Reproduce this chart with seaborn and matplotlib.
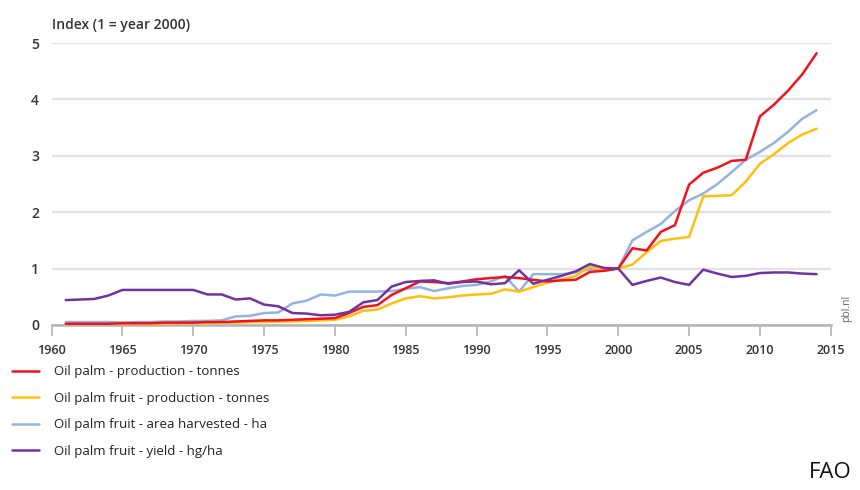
import numpy as np
import pandas as pd
import matplotlib
matplotlib.use("Agg")
import matplotlib.pyplot as plt
import seaborn as sns

years = list(range(1961, 2015))

palm_oil_production = [
    0.02, 0.02, 0.02, 0.02, 0.03, 0.03, 0.03, 0.04, 0.04, 0.04,
    0.05, 0.05, 0.06, 0.07, 0.08, 0.08, 0.09, 0.10, 0.11, 0.12,
    0.21, 0.32, 0.35, 0.53, 0.65, 0.77, 0.76, 0.74, 0.77, 0.81,
    0.83, 0.85, 0.83, 0.80, 0.77, 0.79, 0.80, 0.94, 0.96, 1.00,
    1.36, 1.32, 1.65, 1.77, 2.49, 2.70, 2.79, 2.91, 2.93, 3.70,
    3.91, 4.16, 4.45, 4.82,
]
fruit_production = [
    0.01, 0.01, 0.01, 0.01, 0.02, 0.02, 0.02, 0.02, 0.03, 0.03,
    0.03, 0.04, 0.04, 0.05, 0.05, 0.06, 0.06, 0.07, 0.08, 0.09,
    0.15, 0.25, 0.27, 0.38, 0.47, 0.51, 0.47, 0.49, 0.52, 0.54,
    0.55, 0.63, 0.59, 0.67, 0.75, 0.81, 0.87, 1.04, 0.96, 1.00,
    1.07, 1.29, 1.49, 1.53, 1.56, 2.28, 2.29, 2.30, 2.54, 2.86,
    3.03, 3.23, 3.38, 3.48,
]
fruit_area = [
    0.05, 0.05, 0.05, 0.05, 0.04, 0.05, 0.05, 0.06, 0.06, 0.07,
    0.07, 0.08, 0.15, 0.16, 0.21, 0.22, 0.38, 0.43, 0.54, 0.52,
    0.59, 0.59, 0.59, 0.60, 0.64, 0.67, 0.60, 0.65, 0.69, 0.71,
    0.77, 0.87, 0.59, 0.90, 0.90, 0.90, 0.93, 0.99, 0.98, 1.00,
    1.50, 1.65, 1.79, 2.02, 2.21, 2.33, 2.50, 2.71, 2.93, 3.07,
    3.23, 3.43, 3.66, 3.81,
]
fruit_yield = [
    0.44, 0.45, 0.46, 0.52, 0.62, 0.62, 0.62, 0.62, 0.62, 0.62,
    0.54, 0.54, 0.45, 0.47, 0.36, 0.33, 0.21, 0.20, 0.17, 0.18,
    0.23, 0.40, 0.44, 0.68, 0.76, 0.78, 0.79, 0.73, 0.76, 0.77,
    0.72, 0.74, 0.97, 0.73, 0.80, 0.87, 0.95, 1.08, 1.01, 1.00,
    0.71, 0.78, 0.84, 0.76, 0.71, 0.98, 0.91, 0.85, 0.87, 0.92,
    0.93, 0.93, 0.91, 0.90,
]

series_names = [
    "Oil palm - production - tonnes",
    "Oil palm fruit - production - tonnes",
    "Oil palm fruit - area harvested - ha",
    "Oil palm fruit - yield - hg/ha",
]
series_colors = ["#f4121a", "#ffbf0f", "#94b2e2", "#7232a2"]
x_ticks = list(range(1960, 2016, 5))
y_ticks = [0, 1, 2, 3, 4, 5]

df = pd.DataFrame({
    "year": years * 4,
    "index": palm_oil_production + fruit_production + fruit_area + fruit_yield,
    "series": sum([[name] * len(years) for name in series_names], []),
})

sns.set_theme(style="white")
plt.rcParams["font.family"] = ["Open Sans", "DejaVu Sans"]

fig = plt.figure(figsize=(8.6, 4.9), dpi=100)
ax = fig.add_axes([0.060, 0.337, 0.906, 0.575])

sns.lineplot(data=df, x="year", y="index", hue="series",
             hue_order=series_names, palette=series_colors,
             linewidth=1.8, ax=ax)

# purple drawn on top, then red over yellow
z = {0: 3.2, 1: 3.1, 2: 3.0, 3: 3.3}
for i, line in enumerate(ax.lines[:4]):
    line.set_zorder(z[i])
    line.set_solid_joinstyle("round")

handles, labels = ax.get_legend_handles_labels()
ax.get_legend().remove()

ax.set_xlim(1960, 2015)
ax.set_ylim(0, 5)
ax.set_xticks(x_ticks)
ax.set_yticks(y_ticks)
ax.set_xlabel("")
ax.set_ylabel("")
ax.grid(axis="y", color="#e2e2e2", linewidth=1.6)
ax.grid(axis="x", visible=False)
for side in ["top", "right", "left"]:
    ax.spines[side].set_visible(False)
ax.spines["bottom"].set_color("#b4b4b4")
ax.spines["bottom"].set_linewidth(1.8)
ax.tick_params(axis="x", bottom=True, length=8, width=1.2, color="#b4b4b4",
               labelsize=9, labelcolor="#333333", pad=6)
ax.tick_params(axis="y", left=False, labelsize=10, labelcolor="#333333", pad=3)
for lab in ax.get_yticklabels():
    lab.set_fontweight("semibold")
for lab in ax.get_xticklabels():
    lab.set_fontweight("semibold")

fig.text(0.060, 0.950, "Index (1 = year 2000)", fontsize=10, color="#333333",
         ha="left", va="center", fontweight="semibold")
fig.text(0.985, 0.37, "pbl.nl", fontsize=7.5, color="#666666", rotation=90,
         ha="center", va="center")

fig.legend(handles, labels, loc="upper left", bbox_to_anchor=(0.008, 0.265),
           frameon=False, fontsize=9.5, handlelength=2.0, handletextpad=1.2,
           labelspacing=1.02, borderaxespad=0.0, labelcolor="#222222")

fig.text(0.99, 0.035, "FAO", fontsize=16, color="#111111", ha="right",
         va="center")

fig.savefig("out.png", dpi=100)
